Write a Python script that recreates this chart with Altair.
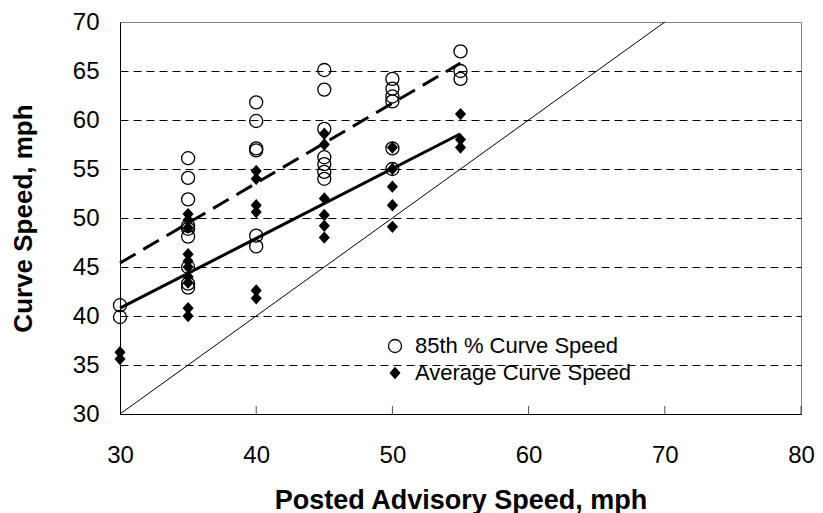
import altair as alt
import pandas as pd

# ---------------- data ----------------
series_names = ["85th % Curve Speed", "Average Curve Speed"]

pct85_x = [30, 30,
           35, 35, 35, 35, 35, 35, 35, 35, 35,
           40, 40, 40, 40, 40, 40,
           45, 45, 45, 45, 45, 45, 45,
           50, 50, 50, 50, 50, 50,
           55, 55, 55]
pct85_y = [41.1, 39.9,
           56.1, 54.1, 51.9, 49.2, 48.9, 48.1, 45.0, 43.3, 42.9,
           61.8, 59.9, 57.1, 56.9, 48.2, 47.1,
           65.1, 63.1, 59.1, 56.2, 55.5, 54.7, 54.0,
           64.2, 63.2, 62.4, 61.9, 57.1, 55.0,
           67.0, 65.0, 64.2]

avg_x = [30, 30,
         35, 35, 35, 35, 35, 35, 35, 35, 35, 35,
         40, 40, 40, 40, 40, 40,
         45, 45, 45, 45, 45, 45,
         50, 50, 50, 50, 50,
         55, 55, 55]
avg_y = [36.3, 35.6,
         50.4, 49.8, 49.0, 46.3, 45.6, 45.0, 44.0, 43.4, 40.8, 40.0,
         54.8, 54.0, 51.3, 50.6, 42.6, 41.8,
         58.6, 57.5, 52.0, 50.3, 49.2, 48.0,
         57.2, 55.0, 53.2, 51.3, 49.1,
         60.6, 58.0, 57.2]

# fitted trend lines (end points)
fit85_x = [30, 55]
fit85_y = [45.4, 65.8]
fitavg_x = [30, 55]
fitavg_y = [40.8, 58.6]

# equality line
eq_x = [30, 70]
eq_y = [30, 70]

x_ticks = [30, 40, 50, 60, 70, 80]
y_ticks = [30, 35, 40, 45, 50, 55, 60, 65, 70]
inner_ticks = [40, 50, 60, 70, 80]

# ---------------- tables ----------------
pts = pd.DataFrame({
    "advisory": pct85_x + avg_x,
    "speed": pct85_y + avg_y,
    "series": [series_names[0]] * len(pct85_x) + [series_names[1]] * len(avg_x),
})
fit85 = pd.DataFrame({"advisory": fit85_x, "speed": fit85_y})
fitavg = pd.DataFrame({"advisory": fitavg_x, "speed": fitavg_y})
eq = pd.DataFrame({"advisory": eq_x, "speed": eq_y})
ticks_df = pd.DataFrame({"tick": inner_ticks})

FONT = "Liberation Sans"
W, H = 681, 392

xscale = alt.Scale(domain=[30, 80], nice=False, zero=False)
yscale = alt.Scale(domain=[30, 70], nice=False, zero=False)

x_enc = alt.X("advisory:Q", scale=xscale,
              axis=alt.Axis(values=x_ticks, title="Posted Advisory Speed, mph",
                            grid=False, ticks=False, tickSize=0, labelPadding=29,
                            labelFlush=False,
                            titleX=W / 2, titleY=94, titleBaseline="alphabetic",
                            titleAlign="center"))
y_enc = alt.Y("speed:Q", scale=yscale,
              axis=alt.Axis(values=y_ticks, title="Curve Speed, mph",
                            grid=True, gridDash=[8, 5], gridColor="black",
                            gridWidth=1,
                            gridOpacity={"condition": {"test": "datum.value == 30 || datum.value == 70",
                                                       "value": 0}, "value": 1},
                            ticks=False, tickSize=0, labelPadding=21,
                            labelFlush=False,
                            titleX=-89, titleY=H / 2, titleAngle=270,
                            titleFontSize=26,
                            titleBaseline="alphabetic", titleAlign="center"))

diamond = "M0,-0.8L0.72,0L0,0.8L-0.72,0Z"

legend = alt.Legend(title=None, orient="none", legendX=264, legendY=313,
                    labelFont=FONT, labelFontSize=22, labelColor="black",
                    labelOffset=9, rowPadding=5, padding=0, labelLimit=0,
                    symbolSize=170, symbolStrokeWidth=1.3, symbolOpacity=1)

points = alt.Chart(pts).mark_point(size=170, filled=True,
                                   strokeWidth=1.3, opacity=1).encode(
    x="advisory:Q",
    y="speed:Q",
    shape=alt.Shape("series:N",
                    scale=alt.Scale(domain=series_names, range=["circle", diamond]),
                    legend=legend),
    fill=alt.Fill("series:N",
                  scale=alt.Scale(domain=series_names, range=["transparent", "black"]),
                  legend=legend),
    stroke=alt.Stroke("series:N",
                      scale=alt.Scale(domain=series_names, range=["black", "black"]),
                      legend=legend),
)

eq_line = alt.Chart(eq).mark_line(color="black", strokeWidth=1).encode(
    x=x_enc, y=y_enc)

line85 = alt.Chart(fit85).mark_line(color="black", strokeWidth=3,
                                    strokeDash=[18, 9]).encode(
    x="advisory:Q", y="speed:Q")
lineavg = alt.Chart(fitavg).mark_line(color="black", strokeWidth=3).encode(
    x="advisory:Q", y="speed:Q")

ticks = alt.Chart(ticks_df).mark_tick(orient="vertical", size=8, thickness=1,
                                      color="black", yOffset=-4).encode(
    x="tick:Q", y=alt.datum(30))

chart = alt.layer(eq_line, points, line85, lineavg, ticks).properties(
    width=W, height=H,
    background="white",
    autosize=alt.AutoSizeParams(type="none"),
    padding={"left": 112, "top": 14, "right": 14, "bottom": 99},
).configure_view(
    stroke="#808080", strokeWidth=1
).configure_axis(
    labelFont=FONT, labelFontSize=24, labelColor="black",
    titleFont=FONT, titleFontSize=27, titleFontWeight="bold", titleColor="black",
    domainColor="black", domainWidth=1,
)

chart.save("out.html", embed_options={"renderer": "svg", "actions": False})
